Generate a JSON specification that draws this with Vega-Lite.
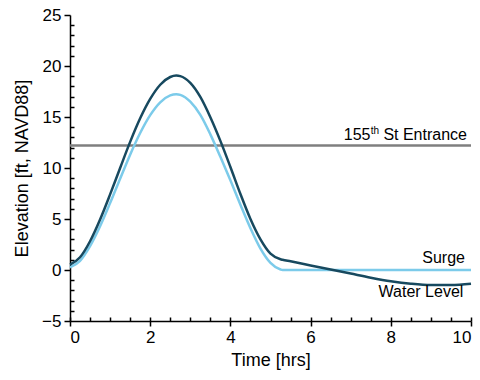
{
  "$schema": "https://vega.github.io/schema/vega-lite/v6.json",
  "autosize": "none",
  "width": 401,
  "height": 306,
  "padding": {"left": 70, "top": 15, "right": 9, "bottom": 59},
  "background": "white",
  "config": {
    "view": {"stroke": null},
    "font": "Liberation Sans",
    "axis": {
      "grid": false,
      "domainColor": "black",
      "domainWidth": 1.5,
      "tickColor": "black",
      "tickWidth": 1.5,
      "labelColor": "black",
      "labelFont": "Liberation Sans",
      "labelFontSize": 17,
      "labelOverlap": false,
      "titleFont": "Liberation Sans",
      "titleFontSize": 18,
      "titleFontWeight": "normal",
      "titleColor": "black"
    }
  },
  "resolve": {"axis": {"x": "independent", "y": "independent"}},
  "datasets": {
    "series": [
      {"t": 0, "v": 0.25, "s": "Surge"},
      {"t": 0.25, "v": 0.9, "s": "Surge"},
      {"t": 0.5, "v": 2.34, "s": "Surge"},
      {"t": 0.75, "v": 4.29, "s": "Surge"},
      {"t": 1.0, "v": 6.56, "s": "Surge"},
      {"t": 1.25, "v": 8.95, "s": "Surge"},
      {"t": 1.5, "v": 11.31, "s": "Surge"},
      {"t": 1.75, "v": 13.43, "s": "Surge"},
      {"t": 2.0, "v": 15.18, "s": "Surge"},
      {"t": 2.25, "v": 16.44, "s": "Surge"},
      {"t": 2.5, "v": 17.12, "s": "Surge"},
      {"t": 2.65, "v": 17.23, "s": "Surge"},
      {"t": 2.75, "v": 17.17, "s": "Surge"},
      {"t": 3.0, "v": 16.5, "s": "Surge"},
      {"t": 3.25, "v": 15.2, "s": "Surge"},
      {"t": 3.5, "v": 13.3, "s": "Surge"},
      {"t": 3.75, "v": 11.1, "s": "Surge"},
      {"t": 4.0, "v": 8.8, "s": "Surge"},
      {"t": 4.25, "v": 6.4, "s": "Surge"},
      {"t": 4.5, "v": 4.1, "s": "Surge"},
      {"t": 4.75, "v": 2.1, "s": "Surge"},
      {"t": 5.0, "v": 0.7, "s": "Surge"},
      {"t": 5.25, "v": 0.05, "s": "Surge"},
      {"t": 5.3, "v": 0, "s": "Surge"},
      {"t": 6, "v": 0, "s": "Surge"},
      {"t": 7, "v": 0, "s": "Surge"},
      {"t": 8, "v": 0, "s": "Surge"},
      {"t": 9, "v": 0, "s": "Surge"},
      {"t": 10, "v": 0, "s": "Surge"},
      {"t": 0, "v": 0.52, "s": "Water Level"},
      {"t": 0.25, "v": 1.25, "s": "Water Level"},
      {"t": 0.5, "v": 2.82, "s": "Water Level"},
      {"t": 0.75, "v": 4.95, "s": "Water Level"},
      {"t": 1.0, "v": 7.41, "s": "Water Level"},
      {"t": 1.25, "v": 10.0, "s": "Water Level"},
      {"t": 1.5, "v": 12.56, "s": "Water Level"},
      {"t": 1.75, "v": 14.87, "s": "Water Level"},
      {"t": 2.0, "v": 16.77, "s": "Water Level"},
      {"t": 2.25, "v": 18.16, "s": "Water Level"},
      {"t": 2.5, "v": 18.92, "s": "Water Level"},
      {"t": 2.65, "v": 19.06, "s": "Water Level"},
      {"t": 2.75, "v": 19.01, "s": "Water Level"},
      {"t": 3.0, "v": 18.35, "s": "Water Level"},
      {"t": 3.25, "v": 16.97, "s": "Water Level"},
      {"t": 3.5, "v": 14.98, "s": "Water Level"},
      {"t": 3.75, "v": 12.66, "s": "Water Level"},
      {"t": 4.0, "v": 10.1, "s": "Water Level"},
      {"t": 4.25, "v": 7.45, "s": "Water Level"},
      {"t": 4.5, "v": 5.0, "s": "Water Level"},
      {"t": 4.75, "v": 3.0, "s": "Water Level"},
      {"t": 5.0, "v": 1.6, "s": "Water Level"},
      {"t": 5.25, "v": 1.05, "s": "Water Level"},
      {"t": 5.3, "v": 1.0, "s": "Water Level"},
      {"t": 5.5, "v": 0.85, "s": "Water Level"},
      {"t": 6.0, "v": 0.45, "s": "Water Level"},
      {"t": 6.5, "v": 0.05, "s": "Water Level"},
      {"t": 7.0, "v": -0.35, "s": "Water Level"},
      {"t": 7.5, "v": -0.75, "s": "Water Level"},
      {"t": 8.0, "v": -1.1, "s": "Water Level"},
      {"t": 8.5, "v": -1.35, "s": "Water Level"},
      {"t": 9.0, "v": -1.48, "s": "Water Level"},
      {"t": 9.5, "v": -1.48, "s": "Water Level"},
      {"t": 10.0, "v": -1.35, "s": "Water Level"}
    ],
    "labels": [
      {"t": 9.85, "v": 0.69, "text": "Surge"},
      {"t": 9.81, "v": -2.6, "text": "Water Level"}
    ],
    "entrance": [
      {"t": 9.9, "v": 12.75, "text": "St Entrance", "num": "155", "sup": "th", "level": 12.2, "t0": 0, "t1": 10}
    ]
  },
  "layer": [
    {
      "data": {"name": "entrance"},
      "mark": {"type": "rule", "color": "#7f7f7f", "strokeWidth": 2.5},
      "encoding": {
        "x": {
          "field": "t0",
          "type": "quantitative",
          "scale": {"domain": [0, 10], "nice": false},
          "axis": {
            "orient": "bottom",
            "title": null,
            "values": [0,0.5,1,1.5,2,2.5,3,3.5,4,4.5,5,5.5,6,6.5,7,7.5,8,8.5,9,9.5,10],
            "labels": false,
            "domain": false,
            "tickSize": -4
          }
        },
        "x2": {"field": "t1"},
        "y": {
          "field": "level",
          "type": "quantitative",
          "scale": {"domain": [-5, 25], "nice": false},
          "axis": {
            "orient": "left",
            "title": null,
            "values": [-4,-3,-2,-1,1,2,3,4,6,7,8,9,11,12,13,14,16,17,18,19,21,22,23,24],
            "labels": false,
            "domain": false,
            "tickSize": -4
          }
        }
      }
    },
    {
      "data": {"name": "series"},
      "transform": [{"filter": "datum.s === 'Surge'"}],
      "mark": {"type": "line", "color": "#7ccbea", "strokeWidth": 2.5, "interpolate": "monotone"},
      "encoding": {
        "x": {
          "field": "t",
          "type": "quantitative",
          "axis": {
            "orient": "bottom",
            "title": "Time [hrs]",
            "values": [0, 2, 4, 6, 8, 10],
            "tickSize": 5,
            "labelPadding": 3,
            "titlePadding": 6
          }
        },
        "y": {
          "field": "v",
          "type": "quantitative",
          "axis": {
            "orient": "left",
            "title": "Elevation [ft, NAVD88]",
            "values": [-5, 0, 5, 10, 15, 20, 25],
            "tickSize": 6,
            "labelPadding": 3,
            "titlePadding": 10
          }
        }
      }
    },
    {
      "data": {"name": "series"},
      "transform": [{"filter": "datum.s === 'Water Level'"}],
      "mark": {"type": "line", "color": "#17495f", "strokeWidth": 2.5, "interpolate": "monotone"},
      "encoding": {
        "x": {"field": "t", "type": "quantitative", "axis": null},
        "y": {"field": "v", "type": "quantitative", "axis": null}
      }
    },
    {
      "data": {"name": "labels"},
      "mark": {"type": "text", "align": "right", "baseline": "alphabetic", "fontSize": 16, "font": "Liberation Sans", "color": "black"},
      "encoding": {
        "x": {"field": "t", "type": "quantitative", "axis": null},
        "y": {"field": "v", "type": "quantitative", "axis": null},
        "text": {"field": "text"}
      }
    },
    {
      "data": {"name": "entrance"},
      "mark": {"type": "text", "align": "right", "baseline": "alphabetic", "fontSize": 16, "font": "Liberation Sans", "color": "black"},
      "encoding": {
        "x": {"field": "t", "type": "quantitative", "axis": null},
        "y": {"field": "v", "type": "quantitative", "axis": null},
        "text": {"field": "text"}
      }
    },
    {
      "data": {"name": "entrance"},
      "mark": {"type": "text", "align": "right", "baseline": "alphabetic", "fontSize": 10, "font": "Liberation Sans", "color": "black", "dx": -88, "dy": -6},
      "encoding": {
        "x": {"field": "t", "type": "quantitative", "axis": null},
        "y": {"field": "v", "type": "quantitative", "axis": null},
        "text": {"field": "sup"}
      }
    },
    {
      "data": {"name": "entrance"},
      "mark": {"type": "text", "align": "right", "baseline": "alphabetic", "fontSize": 16, "font": "Liberation Sans", "color": "black", "dx": -96.5},
      "encoding": {
        "x": {"field": "t", "type": "quantitative", "axis": null},
        "y": {"field": "v", "type": "quantitative", "axis": null},
        "text": {"field": "num"}
      }
    }
  ]
}
